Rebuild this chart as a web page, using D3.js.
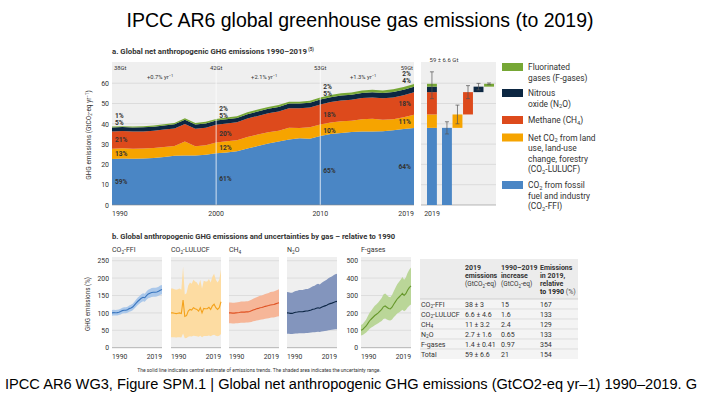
<!DOCTYPE html>
<html>
<head>
<meta charset="utf-8">
<script src="https://cdn.jsdelivr.net/npm/d3@7"></script>
<style>
body { margin: 0; background: #fff; }
text { font-family: Roboto, "Noto Sans", sans-serif; fill: #333; }
.big { font-family: "Liberation Sans", "Noto Sans", sans-serif; fill: #000; }
</style>
</head>
<body>
<svg id="chart" width="720" height="405"></svg>
<script>

//// data (GtCO2-eq per year)
var years = d3.range(1990, 2020);
var gasKeys = ["ffi", "lulucf", "ch4", "n2o", "fgas"];
var co2ffi = [22.7, 22.9, 22.8, 22.9, 23.1, 23.6, 24.2, 24.4, 24.4, 24.8, 25.5, 25.9, 26.5, 27.8, 29.1,
              30.3, 31.3, 32.3, 32.9, 32.6, 34.0, 35.0, 35.5, 36.0, 36.2, 36.2, 36.3, 36.8, 37.5, 37.9];
var co2lulucf = [5.0, 5.0, 4.95, 4.9, 4.95, 5.0, 4.9, 6.85, 4.5, 4.6, 5.25, 5.5, 5.4, 5.75, 5.6,
                 5.5, 5.25, 5.75, 5.0, 5.65, 5.6, 5.6, 5.8, 5.5, 6.0, 6.25, 5.75, 5.5, 5.75, 6.6];
var ch4 = [8.5, 8.5, 8.45, 8.45, 8.5, 8.55, 8.6, 8.7, 8.7, 8.7, 8.75, 8.75, 8.85, 9.0, 9.2,
           9.35, 9.5, 9.6, 9.75, 9.8, 9.95, 10.1, 10.2, 10.3, 10.45, 10.5, 10.55, 10.7, 10.85, 11.0];
var n2o = [2.03, 2.02, 2.0, 2.0, 2.04, 2.07, 2.08, 2.1, 2.1, 2.1, 2.12, 2.14, 2.14, 2.17, 2.2,
           2.24, 2.26, 2.3, 2.33, 2.3, 2.36, 2.4, 2.44, 2.48, 2.53, 2.57, 2.6, 2.64, 2.68, 2.7];
var fgas = [0.40, 0.42, 0.46, 0.50, 0.56, 0.62, 0.66, 0.70, 0.74, 0.77, 0.80, 0.84, 0.88, 0.94, 0.96,
            0.93, 0.90, 0.89, 0.93, 1.00, 1.06, 1.12, 1.16, 1.20, 1.25, 1.20, 1.24, 1.32, 1.38, 1.42];
// relative uncertainty per gas (panel b bands)
var gasUncertainty = [0.08, 0.7, 0.3, 0.6, 0.3];

// annotations of panel a
var markYears = [1990, 2000, 2010, 2019];
var totalLabels = ["38Gt", "42Gt", "53Gt", "59Gt"];
var growthLabels = ["+0.7% yr⁻¹", "+2.1% yr⁻¹", "+1.3% yr⁻¹"];
var shareLabels = {
  ffi:    ["59%", "61%", "65%", "64%"],
  lulucf: ["13%", "12%", "10%", "11%"],
  ch4:    ["21%", "20%", "18%", "18%"],
  n2o:    ["5%", "5%", "5%", "4%"],
  fgas:   ["1%", "2%", "2%", "2%"]
};

// 2019 bars
var emis2019 = [38, 6.6, 11, 2.7, 1.4];
var err2019 = [3, 4.6, 3.2, 1.6, 0.41];
var total2019 = 59, totalErr2019 = 6.6;

// legend
var legendText = [["Fluorinated", "gases (F-gases)"], ["Nitrous", "oxide (N₂O)"], ["Methane (CH₄)"],
                  ["Net CO₂ from land", "use, land-use", "change, forestry", "(CO₂-LULUCF)"],
                  ["CO₂ from fossil", "fuel and industry", "(CO₂-FFI)"]];
var legendKeys = ["fgas", "n2o", "ch4", "lulucf", "ffi"];

// panel b
var smallTitles = ["CO₂-FFI", "CO₂-LULUCF", "CH₄", "N₂O", "F-gases"];
var smallTicks = [[0, 50, 100, 150, 200, 250], [0, 100, 200, 300, 400, 500]];

// table
var tableHead = [["2019", "emissions", "(GtCO₂-eq)"], ["1990–2019", "increase", "(GtCO₂-eq)"],
                 ["Emissions", "in 2019,", "relative", "to 1990 (%)"]];
var tableGas = ["CO₂-FFI", "CO₂-LULUCF", "CH₄", "N₂O", "F-gases", "Total"];
var tableEmis = ["38 ± 3", "6.6 ± 4.6", "11 ± 3.2", "2.7 ± 1.6", "1.4 ± 0.41", "59 ± 6.6"];
var tableInc = ["15", "1.6", "2.4", "0.65", "0.97", "21"];
var tableRel = ["167", "133", "129", "133", "354", "154"];

//color palette of the chart
var color = { ffi: "#4a86c5", lulucf: "#f6a400", ch4: "#dd4a1c", n2o: "#0c2742", fgas: "#76a735" };
var lineColor = { ffi: "#3a76bf", lulucf: "#f4a21c", ch4: "#df5122", n2o: "#0d2746", fgas: "#67982c" };
var bandColor = { ffi: "#abc8ea", lulucf: "#fddca2", ch4: "#f6b698", n2o: "#8395bd", fgas: "#bad698" };
var labelColor = { ffi: "#fff", lulucf: "#fff", ch4: "#fff", n2o: "#1d3a66", fgas: "#6a9f2a" };

var series = { ffi: co2ffi, lulucf: co2lulucf, ch4: ch4, n2o: n2o, fgas: fgas };
var table = years.map(function(y, i) {
  var row = { year: y };
  gasKeys.forEach(function(k) { row[k] = series[k][i]; });
  return row;
});

var svg = d3.select("#chart");
var bg = "#efefef", grid = "#d6d6d6";

// writes a string into a text element, turning ₂ ₄ ⁻ ¹ into shifted tspans
function richText(el, str) {
  var sub = { "₂": "2", "₄": "4" }, sup = { "⁻": "−", "¹": "1" };
  var runs = [], cur = null;
  Array.from(str).forEach(function(ch) {
    var t = sub[ch] ? "sub" : (sup[ch] ? "sup" : "n");
    var c = sub[ch] || sup[ch] || ch;
    if (cur && cur.t == t) cur.s += c;
    else { cur = { t: t, s: c }; runs.push(cur); }
  });
  var fs = parseFloat(el.attr("font-size")), shift = 0;
  runs.forEach(function(r) {
    var dy = r.t == "sub" ? 0.22 * fs : (r.t == "sup" ? -0.38 * fs : 0);
    var ts = el.append("tspan").attr("dy", dy - shift).text(r.s);
    if (r.t != "n") ts.attr("font-size", fs * 0.68);
    shift = dy;
  });
  return el;
}

// titles
svg.append("text").attr("class", "big").attr("x", 360).attr("y", 27)
  .attr("text-anchor", "middle").attr("font-size", 20)
  .attr("textLength", 467).attr("lengthAdjust", "spacingAndGlyphs")
  .text("IPCC AR6 global greenhouse gas emissions (to 2019)");

svg.append("text").attr("class", "big").attr("x", 5).attr("y", 389)
  .attr("font-size", 14).attr("textLength", 692).attr("lengthAdjust", "spacingAndGlyphs")
  .text("IPCC AR6 WG3, Figure SPM.1 | Global net anthropogenic GHG emissions (GtCO2-eq yr–1) 1990–2019. G");

///////////////////
///// PANEL A /////
///////////////////
var ax = d3.scaleLinear().domain([1990, 2019]).range([112, 414]);
var ay = d3.scaleLinear().domain([0, 60]).range([205, 83.2]);

svg.append("text").attr("x", 112).attr("y", 54).attr("font-size", 7.8).attr("font-weight", "bold")
  .attr("fill", "#222").text("a. Global net anthropogenic GHG emissions 1990–2019")
  .append("tspan").attr("font-size", 4.5).attr("dy", -3).text(" (5)");

var pa = svg.append("g");
pa.append("rect").attr("x", 112).attr("y", 62).attr("width", 302).attr("height", 143).attr("fill", bg);
pa.selectAll(".gl").data(ay.ticks(6).filter(function(d) { return d > 0; })).enter().append("line")
  .attr("x1", 112).attr("x2", 414).attr("y1", ay).attr("y2", ay).attr("stroke", grid).attr("stroke-width", 0.8);

var stack = d3.stack().keys(gasKeys)(table);
var area = d3.area().x(function(d) { return ax(d.data.year); })
  .y0(function(d) { return ay(d[0]); }).y1(function(d) { return ay(d[1]); });
pa.selectAll(".layer").data(stack).enter().append("path")
  .attr("d", area).attr("fill", function(d) { return color[d.key]; });

// white decade lines
pa.selectAll(".vl").data([2000, 2010]).enter().append("line")
  .attr("x1", ax).attr("x2", ax).attr("y1", 62).attr("y2", 205)
  .attr("stroke", "#fff").attr("stroke-width", 0.9).attr("opacity", 0.85);

// axes
var yAxA = pa.append("g").attr("transform", "translate(112,0)")
  .call(d3.axisLeft(ay).ticks(6).tickSize(0).tickPadding(3));
yAxA.select(".domain").remove();
yAxA.selectAll("text").attr("font-size", 7).attr("fill", "#333").style("font-family", null);
pa.append("line").attr("x1", 112).attr("x2", 414).attr("y1", 205).attr("y2", 205).attr("stroke", "#888").attr("stroke-width", 0.6);
markYears.forEach(function(y, i) {
  pa.append("text").attr("x", ax(y)).attr("y", 216).attr("font-size", 7)
    .attr("text-anchor", i == 0 ? "start" : (i == 3 ? "end" : "middle")).text(y);
});
richText(pa.append("text").attr("transform", "translate(91,135) rotate(-90)").attr("text-anchor", "middle")
  .attr("font-size", 6.5), "GHG emissions (GtCO₂-eq yr⁻¹)");

// totals, growth rates and shares
markYears.forEach(function(y, i) {
  var anchor = i == 0 ? "start" : (i == 3 ? "end" : "middle");
  var x = ax(y) + (i == 0 ? 2 : (i == 3 ? -1 : 0));
  pa.append("text").attr("x", x).attr("y", 70).attr("font-size", 5.8).attr("text-anchor", anchor)
    .attr("fill", "#555").text(totalLabels[i]);
  var idx = y - 1990;
  var tot = d3.sum(gasKeys, function(k) { return series[k][idx]; });
  var sx = i == 3 ? ax(y) - 3 : ax(y) + 3;
  var sa = i == 3 ? "end" : "start";
  gasKeys.forEach(function(k, j) {
    var yy;
    if (k == "n2o") yy = ay(tot) - 3.5;
    else if (k == "fgas") yy = ay(tot) - 10.5;
    else yy = ay((stack[j][idx][0] + stack[j][idx][1]) / 2);
    pa.append("text").attr("x", sx).attr("y", yy).attr("dy", "0.35em").attr("font-size", 6.6)
      .attr("font-weight", "bold").attr("text-anchor", sa).attr("fill", labelColor[k]).text(shareLabels[k][i]);
  });
});
growthLabels.forEach(function(g, i) {
  richText(pa.append("text").attr("x", (ax(markYears[i]) + ax(markYears[i + 1])) / 2 - 4).attr("y", 79)
    .attr("font-size", 5.8).attr("text-anchor", "middle").attr("fill", "#666"), g);
});

//////////////////////////
///// 2019 BAR PANEL /////
//////////////////////////
var pb = svg.append("g");
pb.append("rect").attr("x", 421).attr("y", 62).attr("width", 75).attr("height", 143).attr("fill", bg);
pb.selectAll(".gl").data(ay.ticks(6).filter(function(d) { return d > 0; })).enter().append("line")
  .attr("x1", 421).attr("x2", 496).attr("y1", ay).attr("y2", ay).attr("stroke", grid).attr("stroke-width", 0.8);
pb.append("line").attr("x1", 421).attr("x2", 496).attr("y1", 205).attr("y2", 205).attr("stroke", "#888").attr("stroke-width", 0.6);
pb.append("text").attr("x", 444).attr("y", 61.5).attr("text-anchor", "middle").attr("font-size", 6)
  .attr("fill", "#555").text(total2019 + " ± " + totalErr2019 + " Gt");
pb.append("text").attr("x", 432).attr("y", 216).attr("text-anchor", "middle").attr("font-size", 7).text("2019");

var wx = d3.scaleBand().domain(gasKeys).range([442, 494]).paddingInner(0.06);
var bw = wx.bandwidth();
var cum = d3.cumsum(emis2019);
gasKeys.forEach(function(k, i) {
  var lo = i == 0 ? 0 : cum[i - 1];
  // stacked bar
  pb.append("rect").attr("x", 427).attr("width", bw).attr("y", ay(cum[i])).attr("height", ay(lo) - ay(cum[i]))
    .attr("fill", color[k]);
  // waterfall bar
  pb.append("rect").attr("x", wx(k)).attr("width", bw).attr("y", ay(cum[i])).attr("height", ay(lo) - ay(cum[i]))
    .attr("fill", color[k]);
});

function errorBar(cx, v, e) {
  var g = pb.append("g").attr("stroke", "#555").attr("stroke-width", 0.7);
  g.append("line").attr("x1", cx).attr("x2", cx).attr("y1", ay(v - e)).attr("y2", ay(v + e));
  g.append("line").attr("x1", cx - 2).attr("x2", cx + 2).attr("y1", ay(v - e)).attr("y2", ay(v - e));
  g.append("line").attr("x1", cx - 2).attr("x2", cx + 2).attr("y1", ay(v + e)).attr("y2", ay(v + e));
}
errorBar(427 + bw / 2, total2019, totalErr2019);
gasKeys.forEach(function(k, i) { errorBar(wx(k) + bw / 2, cum[i], err2019[i]); });

// legend
var legendY = [67, 93, 120, 137.5, 185];
legendKeys.forEach(function(k, i) {
  svg.append("rect").attr("x", 502).attr("y", legendY[i] - 4).attr("width", 21).attr("height", 8).attr("fill", color[k]);
  legendText[i].forEach(function(t, j) {
    richText(svg.append("text").attr("x", 528).attr("y", legendY[i] + j * 10.6 + 3)
      .attr("font-size", 8.4).attr("fill", "#333"), t);
  });
});

///////////////////
///// PANEL B /////
///////////////////
svg.append("text").attr("x", 112).attr("y", 239).attr("font-size", 7.6).attr("font-weight", "bold").attr("fill", "#222")
  .text("b. Global anthropogenic GHG emissions and uncertainties by gas – relative to 1990");

var smallLeft = [112, 171, 229, 287, 361];
var smallW = 50;
gasKeys.forEach(function(k, i) {
  var x0 = smallLeft[i];
  var ticks = k == "fgas" ? smallTicks[1] : smallTicks[0];
  var sx = d3.scaleLinear().domain([1990, 2019]).range([x0, x0 + smallW]);
  var sy = d3.scaleLinear().domain([0, d3.max(ticks)]).range([347.7, 260.7]);
  var base = series[k][0];
  var rel = series[k].map(function(v, j) { return { year: years[j], v: v / base * 100 }; });
  var u = gasUncertainty[i];
  var g = svg.append("g");
  g.append("rect").attr("x", x0).attr("y", 257).attr("width", smallW).attr("height", 90.7).attr("fill", bg);
  g.selectAll(".gl").data(ticks.slice(1)).enter().append("line")
    .attr("x1", x0).attr("x2", x0 + smallW).attr("y1", sy).attr("y2", sy).attr("stroke", grid).attr("stroke-width", 0.7);
  g.append("line").attr("x1", x0).attr("x2", x0 + smallW).attr("y1", sy(0)).attr("y2", sy(0)).attr("stroke", "#888").attr("stroke-width", 0.6);
  g.append("path").datum(rel).attr("fill", bandColor[k])
    .attr("d", d3.area().x(function(d) { return sx(d.year); })
      .y0(function(d) { return sy(d.v * (1 - u)); }).y1(function(d) { return sy(d.v * (1 + u)); }));
  g.append("path").datum(rel).attr("fill", "none").attr("stroke", lineColor[k]).attr("stroke-width", 1.1)
    .attr("d", d3.line().x(function(d) { return sx(d.year); }).y(function(d) { return sy(d.v); }));
  richText(g.append("text").attr("x", x0).attr("y", 252).attr("font-size", 7), smallTitles[i]);
  g.append("text").attr("x", x0).attr("y", 359).attr("font-size", 6.8).text("1990");
  g.append("text").attr("x", x0 + smallW).attr("y", 359).attr("font-size", 6.8).attr("text-anchor", "end").text("2019");
  if (i == 0 || k == "fgas") {
    var yAx = g.append("g").attr("transform", "translate(" + x0 + ",0)")
      .call(d3.axisLeft(sy).tickValues(ticks).tickSize(0).tickPadding(3));
    yAx.select(".domain").remove();
    yAx.selectAll("text").attr("font-size", 6.8).attr("fill", "#333").style("font-family", null);
  }
});
svg.append("text").attr("transform", "translate(90,304) rotate(-90)").attr("text-anchor", "middle")
  .attr("font-size", 6.3).text("GHG emissions (%)");
svg.append("text").attr("x", 259).attr("y", 372).attr("text-anchor", "middle").attr("font-size", 5)
  .attr("fill", "#444").text("The solid line indicates central estimate of emissions trends. The shaded area indicates the uncertainty range.");

/////////////////
///// TABLE /////
/////////////////
var tb = svg.append("g");
var colX = [421, 465, 501, 540];
tb.append("rect").attr("x", 420).attr("y", 259).attr("width", 158).attr("height", 100).attr("fill", "#f4f4f4");
tb.append("rect").attr("x", 420).attr("y", 259).attr("width", 158).attr("height", 40).attr("fill", "#ececec");
tableHead.forEach(function(lines, c) {
  lines.forEach(function(t, j) {
    var el = tb.append("text").attr("x", colX[c + 1]).attr("y", 269.5 + j * 8.3).attr("font-size", 7);
    if (t.indexOf("(") == 0) richText(el.attr("fill", "#555").attr("font-size", 6.5), t);
    else if (t.indexOf("(%)") > 0) {
      el.append("tspan").attr("font-weight", "bold").attr("fill", "#222").text(t.replace(" (%)", " "));
      el.append("tspan").attr("fill", "#555").text("(%)");
    } else el.attr("font-weight", "bold").attr("fill", "#222").text(t);
  });
});
tableGas.forEach(function(gname, r) {
  var yy = 304 + r * 10;
  if (r > 0) tb.append("line").attr("x1", 420).attr("x2", 578).attr("y1", yy - 5).attr("y2", yy - 5).attr("stroke", "#d3d3d3").attr("stroke-width", 0.7);
  [gname, tableEmis[r], tableInc[r], tableRel[r]].forEach(function(t, c) {
    richText(tb.append("text").attr("x", colX[c]).attr("y", yy + 2.5).attr("font-size", 7).attr("fill", "#333"), t);
  });
});
tb.append("line").attr("x1", 420).attr("x2", 578).attr("y1", 299).attr("y2", 299).attr("stroke", "#c8c8c8").attr("stroke-width", 0.8);

</script>
</body>
</html>
